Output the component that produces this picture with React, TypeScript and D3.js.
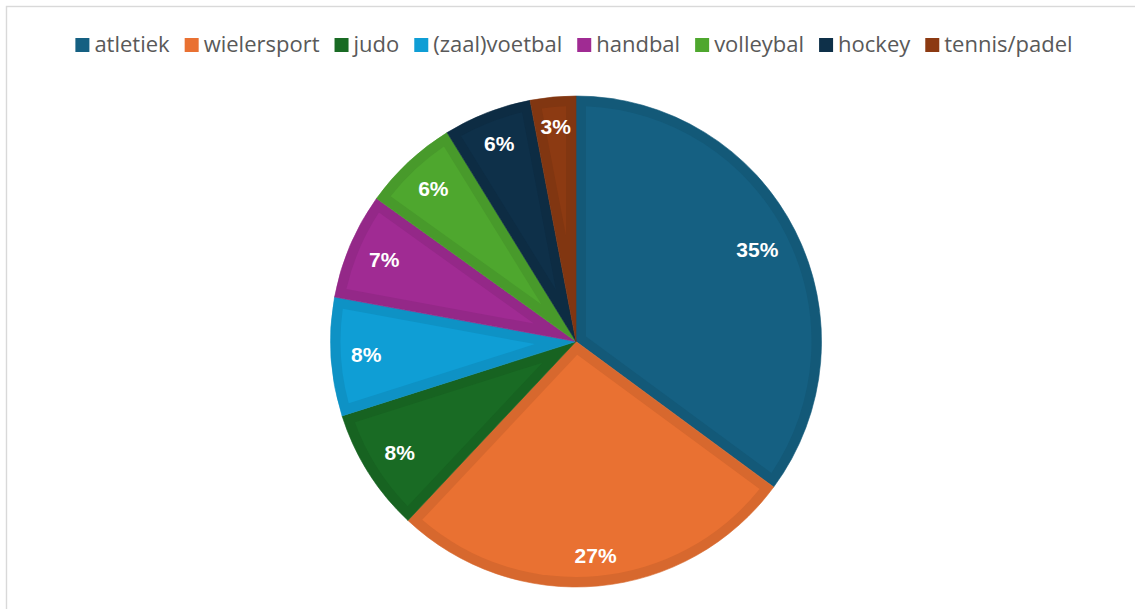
import React, { useMemo } from "react";
import * as d3 from "d3";

const categories = ["atletiek", "wielersport", "judo", "(zaal)voetbal", "handbal", "volleybal", "hockey", "tennis/padel"];
const values = [35.1, 26.9, 8.1, 7.8, 7.0, 6.3, 5.8, 3.0];
const colors = ["#156082", "#E97132", "#196B24", "#0F9ED5", "#A02B93", "#4EA72E", "#0E3049", "#8C3A12"];

const W = 1135;
const H = 609;
const CX = 576;
const CY = 341.5;
const R = 245.5;
const BAND = 10;
const LABEL_FONT = 21;
const LEGEND_FONT = 22;

function measure(text: string, font: string): number {
  const c = document.createElement("canvas");
  const ctx = c.getContext("2d");
  if (!ctx) return text.length * 11;
  ctx.font = font;
  return ctx.measureText(text).width;
}

function pt(r: number, a: number): [number, number] {
  return [r * Math.sin(a), -r * Math.cos(a)];
}

export default function App() {
  const total = d3.sum(values);
  const arcs = useMemo(
    () =>
      d3
        .pie<number>()
        .sort(null)
        .value((d) => d)(values),
    []
  );
  const arcGen = d3.arc<d3.PieArcDatum<number>>().innerRadius(0).outerRadius(R);

  const insetPath = (a0: number, a1: number) => {
    const half = (a1 - a0) / 2;
    const mid = (a0 + a1) / 2;
    const Ro = R - BAND;
    const apexDist = BAND / Math.sin(half);
    const delta = Math.asin(BAND / Ro);
    const p = d3.path();
    const [ax, ay] = pt(apexDist, mid);
    p.moveTo(ax, ay);
    const [sx, sy] = pt(Ro, a0 + delta);
    p.lineTo(sx, sy);
    p.arc(0, 0, Ro, a0 + delta - Math.PI / 2, a1 - delta - Math.PI / 2, false);
    p.closePath();
    return p.toString();
  };

  const labelFont = `bold ${LABEL_FONT}px "Liberation Sans", Arial, sans-serif`;
  const legendFont = `${LEGEND_FONT}px "Open Sans", sans-serif`;

  const legendWidths = categories.map((c) => measure(c, legendFont));
  const sq = 14;
  const sqGap = 5;
  const itemGap = 15;
  const totalLegend = d3.sum(legendWidths.map((w) => sq + sqGap + w)) + itemGap * (categories.length - 1);
  let lx = 574 - totalLegend / 2;
  const legendItems = categories.map((c, i) => {
    const x = lx;
    lx += sq + sqGap + legendWidths[i] + itemGap;
    return { c, x, color: colors[i] };
  });

  return (
    <svg
      width={W}
      height={H}
      style={{ position: "absolute", left: 0, top: 0, background: "#fff" }}
    >
      <rect x={6.5} y={6.5} width={W + 20} height={H + 20} fill="#fff" stroke="#d9d9d9" strokeWidth={1.4} />
      <g>
        {legendItems.map((it) => (
          <g key={it.c}>
            <rect x={it.x} y={38} width={sq} height={sq} fill={it.color} />
            <text
              x={it.x + sq + sqGap}
              y={52}
              fontFamily='"Open Sans", sans-serif'
              fontSize={LEGEND_FONT}
              fill="#595959"
            >
              {it.c}
            </text>
          </g>
        ))}
      </g>
      <g transform={`translate(${CX},${CY})`}>
        {arcs.map((a, i) => {
          const base = d3.color(colors[i])!;
          const band = base.darker(0.22).formatHex();
          return (
            <g key={i}>
              <path d={arcGen(a) || ""} fill={band} stroke={band} strokeWidth={0.6} />
              <path d={insetPath(a.startAngle, a.endAngle)} fill={base.formatHex()} />
            </g>
          );
        })}
        {arcs.map((a, i) => {
          const label = `${Math.round((values[i] / total) * 100)}%`;
          const w = measure(label, labelFont);
          const hw = w / 2;
          const hh = 9;
          const mid = (a.startAngle + a.endAngle) / 2;
          const r = 226 - (hw * Math.abs(Math.sin(mid)) + hh * Math.abs(Math.cos(mid)));
          const [x, y] = pt(r, mid);
          return (
            <text
              key={`l${i}`}
              x={x}
              y={y}
              textAnchor="middle"
              dominantBaseline="central"
              fontFamily='"Liberation Sans", Arial, sans-serif'
              fontWeight="bold"
              fontSize={LABEL_FONT}
              fill="#ffffff"
            >
              {label}
            </text>
          );
        })}
      </g>
    </svg>
  );
}
